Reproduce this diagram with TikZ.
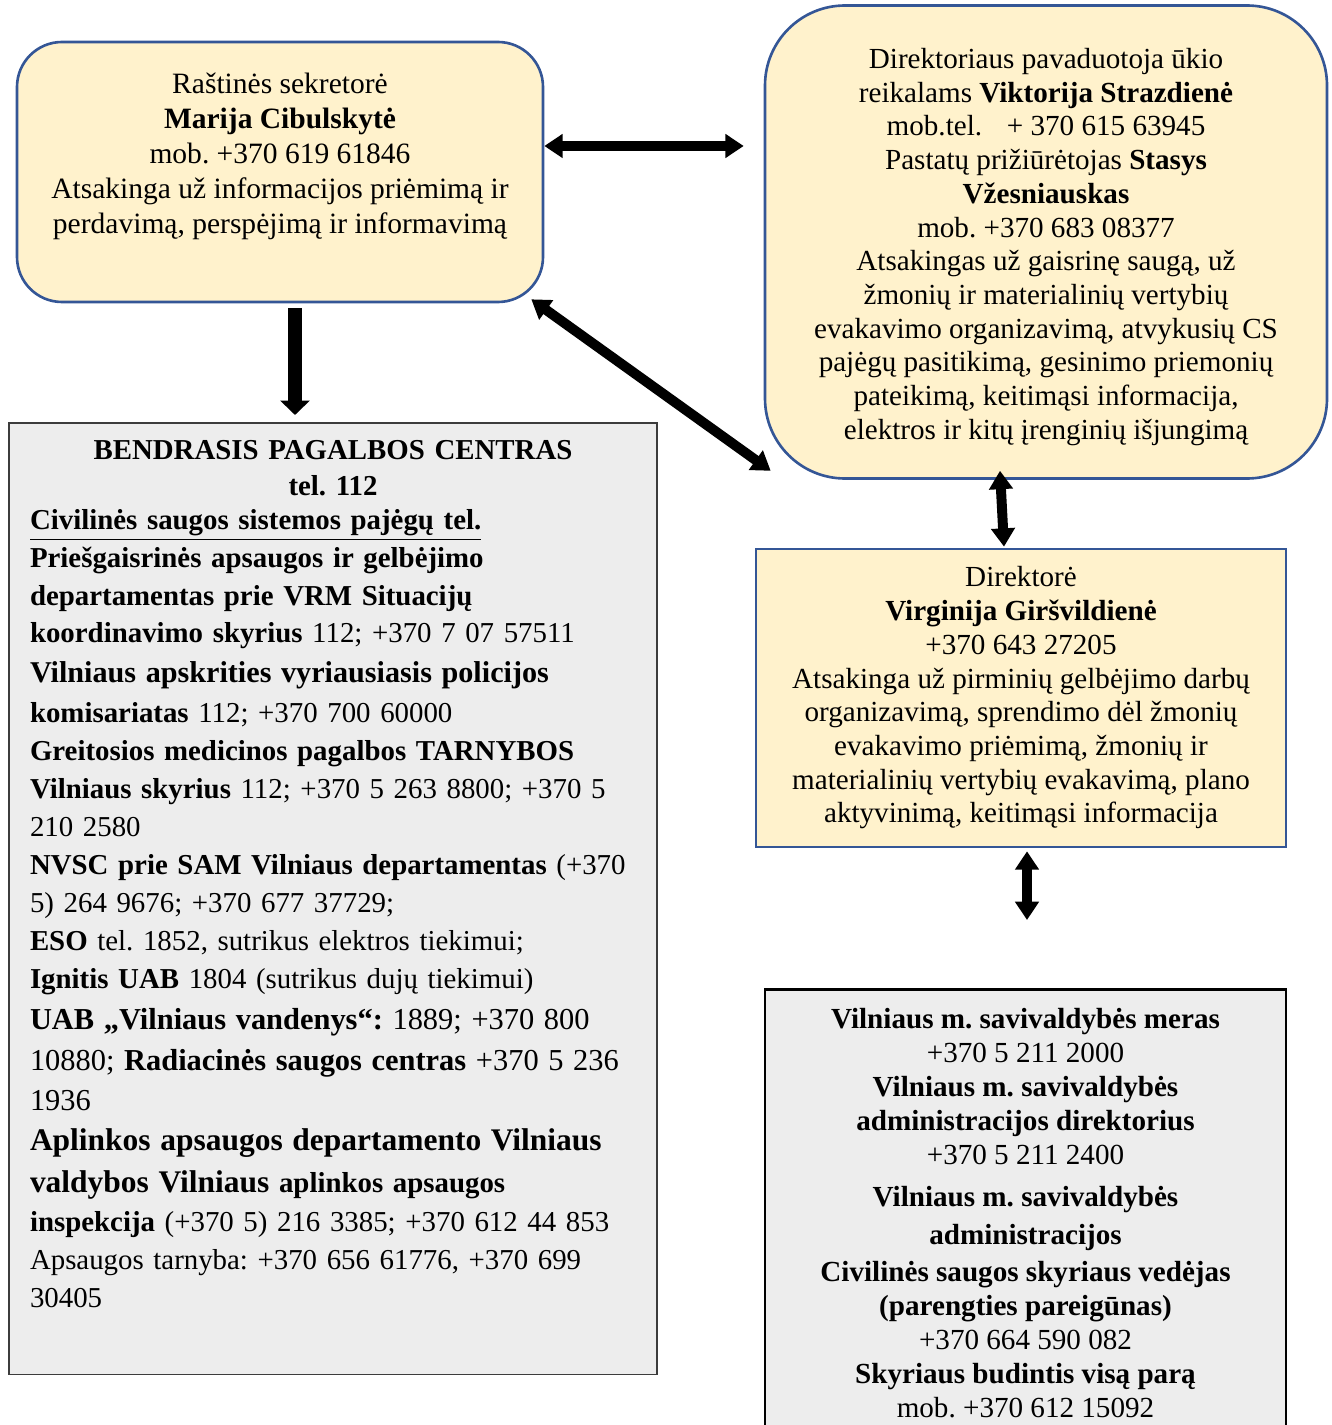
\documentclass[tikz,border=0pt]{standalone}
\usepackage{fontspec}
\setmainfont{Liberation Serif}
\usepackage{xcolor}
\definecolor{boxyellow}{RGB}{255,242,204}
\definecolor{boxblue}{RGB}{52,86,150}
\definecolor{boxgrey}{RGB}{237,237,237}
\definecolor{edgegrey}{RGB}{60,60,60}
\usepackage{tikz}
\usetikzlibrary{arrows.meta,calc}
\newlength{\pxu}
\setlength{\pxu}{0.0134cm}

\begin{document}
\frenchspacing
\begin{tikzpicture}[x=0.0134cm, y=-0.0134cm,
  yellowbox/.style={draw=boxblue, fill=boxyellow, line width=1pt, align=center, inner sep=0pt},
  greybox/.style={fill=boxgrey, anchor=north, inner ysep=18\pxu},
  fatarrow/.style={{Triangle[length=7pt,width=8.8pt]}-{Triangle[length=7pt,width=8.8pt]}, line width=3.8pt},
  downarrow/.style={-{Triangle[length=5.5pt,width=11pt]}, line width=5pt}
]
\useasboundingbox (0,0) rectangle (1332,1425);

\node[yellowbox, rounded corners=45\pxu, minimum width=526\pxu, minimum height=260\pxu,
  font=\fontsize{11.25}{13.35}\selectfont] (sek) at (280,172) {
  Raštinės sekretorė\\
  \textbf{Marija Cibulskytė}\\
  mob. +370 619 61846\\
  Atsakinga už informacijos priėmimą ir\\
  perdavimą, perspėjimą ir informavimą\rule[-37\pxu]{0pt}{0pt}
};

\node[yellowbox, rounded corners=80\pxu, minimum width=562\pxu, minimum height=473\pxu,
  font=\fontsize{11.1}{12.85}\selectfont] (dep) at (1046,242) {
  \rule{0pt}{30\pxu}Direktoriaus pavaduotoja ūkio\\
  reikalams \textbf{Viktorija Strazdienė}\\
  mob.tel.\hspace{0.85em}+ 370 615 63945\\
  Pastatų prižiūrėtojas \textbf{Stasys}\\
  \textbf{Vžesniauskas}\\
  mob. +370 683 08377\\
  Atsakingas už gaisrinę saugą, už\\
  žmonių ir materialinių vertybių\\
  evakavimo organizavimą, atvykusių CS\\
  pajėgų pasitikimą, gesinimo priemonių\\
  pateikimą, keitimąsi informacija,\\
  elektros ir kitų įrenginių išjungimą
};

\node[yellowbox, minimum width=530\pxu, minimum height=298\pxu,
  font=\fontsize{11.1}{12.85}\selectfont] (dir) at (1021,698) {
  Direktorė\\
  \textbf{Virginija Giršvildienė}\\
  +370 643 27205\\
  Atsakinga už pirminių gelbėjimo darbų\\
  organizavimą, sprendimo dėl žmonių\\
  evakavimo priėmimą, žmonių ir\\
  materialinių vertybių evakavimą, plano\\
  aktyvinimą, keitimąsi informacija
};

\node[greybox, draw=edgegrey, line width=0.6pt, text width=606\pxu, inner xsep=21\pxu, align=left,
  font=\fontsize{11}{14.5}\selectfont] (bpc) at (333,422) {
  \makebox[\hsize]{\textbf{BENDRASIS PAGALBOS CENTRAS}}\\[-1.1pt]
  \makebox[\hsize]{\textbf{tel. 112}}\\[-1.5pt]
  \underline{\textbf{Civilinės saugos sistemos pajėgų tel.}}\\
  \textbf{Priešgaisrinės apsaugos ir gelbėjimo}\\
  \textbf{departamentas prie VRM Situacijų}\\[-0.4pt]
  \textbf{koordinavimo skyrius} 112; +370 7 07 57511\\[0.75pt]
  {\fontsize{11.5}{14.5}\selectfont\textbf{Vilniaus apskrities vyriausiasis policijos}}\\[0.75pt]
  \textbf{komisariatas} 112; +370 700 60000\\
  \textbf{Greitosios medicinos pagalbos TARNYBOS}\\
  \textbf{Vilniaus skyrius} 112; +370 5 263 8800; +370 5\\
  210 2580\\
  \mbox{\textbf{NVSC prie SAM Vilniaus departamentas} (+370}\\
  5) 264 9676; +370 677 37729;\\
  \textbf{ESO} tel. 1852, sutrikus elektros tiekimui;\\
  \textbf{Ignitis UAB} 1804 (sutrikus dujų tiekimui)\\[1.1pt]
  {\fontsize{11.6}{14.5}\selectfont\textbf{UAB „Vilniaus vandenys“:} 1889; +370 800}\\[1.1pt]
  {\fontsize{11.6}{14.5}\selectfont 10880; \textbf{Radiacinės saugos centras} +370 5 236}\\[0.75pt]
  {\fontsize{11.6}{14.5}\selectfont 1936}\\[0.75pt]
  {\fontsize{12}{14.5}\selectfont\textbf{Aplinkos apsaugos departamento Vilniaus}}\\[1.5pt]
  {\fontsize{12}{14.5}\selectfont\textbf{valdybos Vilniaus}} \textbf{aplinkos apsaugos}\\[0.4pt]
  \textbf{inspekcija} (+370 5) 216 3385; +370 612 44 853\\
  Apsaugos tarnyba: +370 656 61776, +370 699\\
  30405\rule[-49\pxu]{0pt}{0pt}
};

\node[greybox, draw=black, line width=1pt, minimum width=521\pxu, inner ysep=19\pxu, align=center,
  font=\fontsize{11.1}{12.95}\selectfont] (mun) at (1025.5,988) {
  \textbf{Vilniaus m. savivaldybės meras}\\
  +370 5 211 2000\\
  \textbf{Vilniaus m. savivaldybės}\\
  \textbf{administracijos direktorius}\\
  +370 5 211 2400\\[3pt]
  \textbf{Vilniaus m. savivaldybės}\\[1.5pt]
  \textbf{administracijos}\\[1.2pt]
  \textbf{Civilinės saugos skyriaus vedėjas}\\
  \textbf{(parengties pareigūnas)}\\
  +370 664 590 082\\
  \textbf{Skyriaus budintis visą parą}\\
  mob. +370 612 15092\rule[-40\pxu]{0pt}{0pt}
};

\coordinate (munlink) at (1027,920);

\draw[fatarrow] ($(sek.east)+(0,-26)$) -- ($(sek.east -| dep.west)+(-20,-26)$);
\draw[fatarrow] ($(sek.south east)+(-13,-4)$) -- ($(dep.south west)+(7,-9)$);
\draw[downarrow] ($(sek.south)+(15,5)$) -- ($(bpc.north)+(-38,-7)$);
\draw[fatarrow] ($(dep.south)+(-46,-9)$) -- ($(dir.north)+(-17,-1)$);
\draw[fatarrow] ($(dir.south)+(6,3)$) -- (munlink);
\end{tikzpicture}
\end{document}
